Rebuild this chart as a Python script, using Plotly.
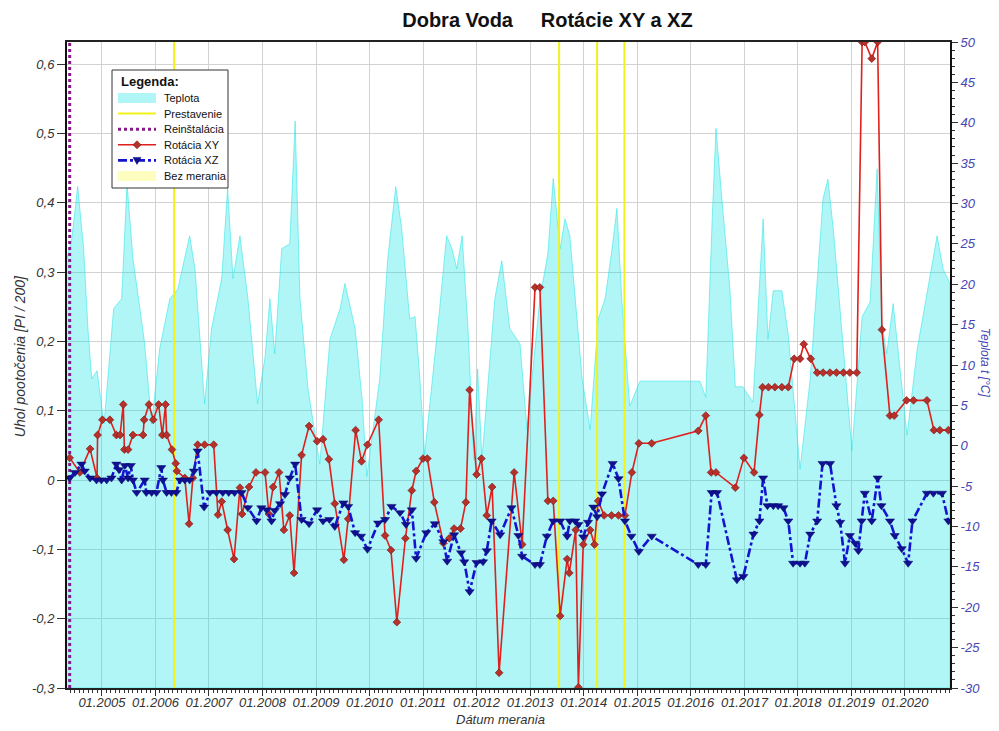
import pandas as pd
import plotly.graph_objects as go

# ---- data -------------------------------------------------------------
# dates are given as fractional years

# Temperature (right axis, °C)
temp_dates = [2004.35, 2004.44, 2004.55, 2004.66, 2004.74, 2004.81, 2004.91, 2005.04, 2005.22, 2005.37,
              2005.47, 2005.58, 2005.71, 2005.80, 2005.93, 2006.08, 2006.27, 2006.42, 2006.64, 2006.74,
              2006.92, 2007.05, 2007.24, 2007.35, 2007.45, 2007.58, 2007.73, 2007.91, 2008.05, 2008.14,
              2008.23, 2008.36, 2008.51, 2008.61, 2008.70, 2008.85, 2009.07, 2009.26, 2009.45, 2009.54,
              2009.73, 2009.86, 2009.95, 2010.19, 2010.34, 2010.49, 2010.60, 2010.75, 2010.85, 2010.94,
              2011.03, 2011.18, 2011.31, 2011.44, 2011.54, 2011.63, 2011.73, 2011.84, 2011.95, 2012.02,
              2012.10, 2012.34, 2012.47, 2012.62, 2012.81, 2012.94, 2013.18, 2013.33, 2013.43, 2013.56,
              2013.65, 2013.74, 2013.84, 2013.97, 2014.12, 2014.27, 2014.40, 2014.53, 2014.62, 2014.71,
              2014.86, 2015.05, 2016.17, 2016.28, 2016.40, 2016.47, 2016.58, 2016.73, 2016.83, 2016.97,
              2017.16, 2017.35, 2017.44, 2017.54, 2017.70, 2017.82, 2018.04, 2018.23, 2018.47, 2018.56,
              2018.66, 2019.01, 2019.20, 2019.35, 2019.48, 2019.57, 2019.66, 2019.78, 2019.87, 2020.04,
              2020.23, 2020.60, 2020.71, 2020.84]
temp_values = [23.2, 25.7, 32.1, 24.4, 14.5, 8.3, 9.3, 2.7, 17.0, 18.2,
               32.5, 23.2, 17.0, 12.6, 2.7, 12.0, 18.2, 19.4, 26.0, 21.9,
               5.2, 14.5, 20.7, 31.9, 20.7, 26.0, 18.2, 5.2, 11.0, 18.2,
               11.4, 24.4, 25.0, 40.2, 18.2, 7.0, -2.3, 13.2, 17.0, 20.1,
               14.5, 5.8, -3.8, 8.3, 23.2, 32.1, 26.9, 15.7, 16.0, 8.3,
               -1.1, 8.3, 17.0, 26.0, 24.4, 21.9, 26.0, 14.5, -1.7, 9.5,
               -1.7, 18.2, 22.9, 14.5, 12.6, 2.0, 18.2, 23.8, 33.1, 24.4,
               28.1, 26.0, 18.2, 8.3, 2.0, 15.7, 18.2, 24.4, 29.4, 18.2,
               4.9, 8.0, 8.0, 6.0, 28.1, 39.3, 30.6, 19.4, 7.3, 7.3,
               5.4, 28.1, 13.2, 19.2, 19.2, 13.7, -2.9, 8.3, 30.6, 33.0,
               26.9, -0.6, 16.0, 17.8, 34.3, 15.1, 11.4, 17.6, 11.9, 1.3,
               12.0, 26.0, 21.9, 20.1]

# Rotation XY (left axis, PI/200)
xy_dates = [2004.40, 2004.59, 2004.78, 2004.91, 2004.92, 2005.01, 2005.15, 2005.27, 2005.34, 2005.40,
            2005.42, 2005.49, 2005.58, 2005.77, 2005.79, 2005.88, 2005.96, 2006.06, 2006.13, 2006.19,
            2006.21, 2006.31, 2006.38, 2006.40, 2006.55, 2006.63, 2006.70, 2006.79, 2006.92, 2007.09,
            2007.17, 2007.24, 2007.35, 2007.47, 2007.58, 2007.62, 2007.75, 2007.88, 2008.05, 2008.12,
            2008.20, 2008.31, 2008.40, 2008.51, 2008.59, 2008.73, 2008.87, 2009.02, 2009.13, 2009.24,
            2009.35, 2009.52, 2009.60, 2009.74, 2009.85, 2009.96, 2010.17, 2010.29, 2010.40, 2010.51,
            2010.67, 2010.79, 2010.87, 2011.00, 2011.08, 2011.21, 2011.38, 2011.49, 2011.58, 2011.70,
            2011.80, 2011.87, 2012.00, 2012.09, 2012.19, 2012.29, 2012.42, 2012.70, 2012.85, 2013.09,
            2013.18, 2013.33, 2013.43, 2013.56, 2013.69, 2013.73, 2013.85, 2013.90, 2013.99, 2014.12,
            2014.20, 2014.27, 2014.38, 2014.52, 2014.65, 2014.77, 2014.90, 2015.03, 2015.27, 2016.14,
            2016.28, 2016.38, 2016.47, 2016.83, 2016.99, 2017.18, 2017.28, 2017.34, 2017.45, 2017.57,
            2017.70, 2017.82, 2017.93, 2018.04, 2018.11, 2018.24, 2018.36, 2018.47, 2018.60, 2018.72,
            2018.85, 2018.97, 2019.10, 2019.20, 2019.25, 2019.38, 2019.49, 2019.57, 2019.72, 2019.80,
            2020.03, 2020.16, 2020.41, 2020.54, 2020.65, 2020.81]
xy_values = [0.032, 0.011, 0.045, 0.003, 0.065, 0.087, 0.087, 0.065, 0.065, 0.109,
             0.044, 0.044, 0.065, 0.065, 0.087, 0.109, 0.087, 0.109, 0.065, 0.109,
             0.065, 0.044, 0.024, 0.013, 0.003, -0.063, 0.003, 0.051, 0.051, 0.051,
             -0.050, -0.031, -0.072, -0.114, -0.011, -0.049, -0.010, 0.011, 0.011, -0.049,
             -0.010, 0.011, -0.072, -0.051, -0.134, 0.036, 0.078, 0.056, 0.059, 0.030,
             -0.034, -0.115, -0.056, 0.072, 0.027, 0.051, 0.087, -0.080, -0.101, -0.205,
             -0.084, -0.015, 0.013, 0.031, 0.031, -0.032, -0.091, -0.084, -0.070, -0.070,
             -0.032, 0.130, 0.008, 0.031, -0.051, -0.010, -0.278, 0.011, -0.093, 0.278,
             0.278, -0.030, -0.030, -0.196, -0.114, -0.134, -0.072, -0.299, -0.093, -0.072,
             -0.093, -0.030, -0.051, -0.051, -0.051, -0.051, 0.011, 0.053, 0.053, 0.071,
             0.093, 0.011, 0.011, -0.011, 0.032, 0.011, 0.094, 0.134, 0.134, 0.134,
             0.134, 0.134, 0.175, 0.175, 0.196, 0.175, 0.155, 0.155, 0.155, 0.155,
             0.155, 0.155, 0.155, 0.632, 0.632, 0.608, 0.632, 0.217, 0.093, 0.093,
             0.115, 0.115, 0.115, 0.072, 0.072, 0.072]

# Rotation XZ (left axis, PI/200)
xz_dates = [2004.40, 2004.50, 2004.62, 2004.68, 2004.78, 2004.90, 2004.99, 2005.09, 2005.18, 2005.27,
            2005.32, 2005.37, 2005.43, 2005.49, 2005.54, 2005.58, 2005.65, 2005.80, 2005.83, 2005.93,
            2006.02, 2006.11, 2006.14, 2006.21, 2006.30, 2006.39, 2006.46, 2006.55, 2006.64, 2006.72,
            2006.79, 2006.91, 2007.02, 2007.14, 2007.26, 2007.37, 2007.48, 2007.61, 2007.73, 2007.89,
            2007.98, 2008.08, 2008.17, 2008.23, 2008.33, 2008.42, 2008.51, 2008.61, 2008.73, 2008.87,
            2009.02, 2009.13, 2009.25, 2009.35, 2009.51, 2009.60, 2009.73, 2009.84, 2009.96, 2010.16,
            2010.29, 2010.41, 2010.57, 2010.68, 2010.79, 2010.87, 2011.06, 2011.22, 2011.38, 2011.45,
            2011.58, 2011.71, 2011.77, 2011.87, 2012.00, 2012.12, 2012.19, 2012.28, 2012.44, 2012.65,
            2012.78, 2012.85, 2013.09, 2013.18, 2013.31, 2013.43, 2013.56, 2013.69, 2013.74, 2013.84,
            2013.90, 2013.99, 2014.08, 2014.18, 2014.25, 2014.34, 2014.54, 2014.65, 2014.77, 2014.89,
            2015.03, 2015.27, 2016.14, 2016.28, 2016.39, 2016.49, 2016.86, 2016.98, 2017.17, 2017.28,
            2017.35, 2017.43, 2017.54, 2017.63, 2017.73, 2017.82, 2017.91, 2018.04, 2018.13, 2018.23,
            2018.36, 2018.46, 2018.60, 2018.72, 2018.79, 2018.88, 2018.97, 2019.07, 2019.13, 2019.19,
            2019.25, 2019.38, 2019.49, 2019.56, 2019.72, 2019.81, 2019.94, 2020.06, 2020.14, 2020.41,
            2020.53, 2020.69, 2020.81]
xz_values = [0.003, 0.011, 0.023, 0.013, 0.003, 0.000, 0.000, 0.000, 0.003, 0.023,
             0.015, 0.000, 0.021, 0.003, 0.021, 0.000, -0.018, 0.000, -0.018, -0.018,
             -0.018, 0.018, 0.000, -0.018, -0.018, -0.018, 0.000, 0.000, 0.000, 0.013,
             0.042, -0.039, -0.018, -0.018, -0.018, -0.018, -0.018, -0.018, -0.040, -0.059,
             -0.040, -0.043, -0.059, -0.044, -0.034, -0.021, 0.003, 0.023, -0.057, -0.063,
             -0.043, -0.059, -0.057, -0.067, -0.033, -0.038, -0.076, -0.081, -0.100, -0.062,
             -0.057, -0.038, -0.047, -0.064, -0.043, -0.113, -0.076, -0.063, -0.089, -0.117,
             -0.079, -0.105, -0.118, -0.161, -0.119, -0.118, -0.102, -0.059, -0.079, -0.040,
             -0.080, -0.110, -0.122, -0.122, -0.081, -0.059, -0.059, -0.081, -0.059, -0.059,
             -0.064, -0.082, -0.061, -0.039, -0.053, -0.020, 0.024, 0.002, -0.059, -0.081,
             -0.103, -0.081, -0.122, -0.122, -0.018, -0.018, -0.144, -0.139, -0.078, -0.059,
             0.003, -0.037, -0.037, -0.037, -0.040, -0.059, -0.120, -0.120, -0.120, -0.078,
             -0.059, 0.024, 0.024, -0.037, -0.061, -0.120, -0.080, -0.091, -0.102, -0.059,
             -0.019, -0.059, 0.003, -0.037, -0.059, -0.080, -0.099, -0.120, -0.059, -0.019,
             -0.019, -0.019, -0.059]

# events
reinstall_dates = [2004.40]
rebuild_dates = [2006.35, 2013.54, 2014.25, 2014.76]

# axes
x_start, x_end = 2004.35, 2020.84
rot_range = [-0.3, 0.632]
temp_range = [-30, 50]
rot_tickvals = [-0.3, -0.2, -0.1, 0, 0.1, 0.2, 0.3, 0.4, 0.5, 0.6]
rot_ticktext = ["-0,3", "-0,2", "-0,1", "0", "0,1", "0,2", "0,3", "0,4", "0,5", "0,6"]
temp_tickvals = [-30, -25, -20, -15, -10, -5, 0, 5, 10, 15, 20, 25, 30, 35, 40, 45, 50]
temp_ticktext = ["-30", "-25", "-20", "-15", "-10", "-5", "0", "5", "10", "15", "20",
                 "25", "30", "35", "40", "45", "50"]

legend_labels = ["Teplota", "Prestavenie", "Reinštalácia", "Rotácia XY", "Rotácia XZ", "Bez merania"]


def to_date(y):
    year = int(y)
    start = pd.Timestamp(year=year, month=1, day=1)
    end = pd.Timestamp(year=year + 1, month=1, day=1)
    return start + (end - start) * (y - year)


def dates(lst):
    return [to_date(v) for v in lst]


FONT = "Liberation Sans, Arial, sans-serif"
CYAN_FILL = "rgba(0,226,228,0.31)"
CYAN_EDGE = "rgba(40,228,230,0.55)"
YELLOW = "#f2f21a"
PURPLE = "#8a1a8a"
RED = "#e0201c"
RED_MK = "#b8302a"
BLUE = "#1414d0"
BLUE_MK = "#101090"
PALE = "#fdfdc0"

fig = go.Figure()

# temperature area (base subplot, right axis): closed polygon down to the axis bottom
t_dates = dates(temp_dates)
area_x = t_dates + t_dates[::-1]
area_y = temp_values + [temp_range[0]] * len(t_dates)
fig.add_trace(go.Scatter(
    x=area_x, y=area_y, yaxis="y", name="Teplota",
    mode="lines", fill="toself", fillcolor=CYAN_FILL,
    line=dict(color=CYAN_EDGE, width=1), hoverinfo="skip"))

# rebuild markers (vertical lines)
rx, ry = [], []
for d in dates(rebuild_dates):
    rx += [d, d, None]
    ry += [rot_range[0], rot_range[1], None]
fig.add_trace(go.Scatter(x=rx, y=ry, yaxis="y2", mode="lines", name="Prestavenie",
                         line=dict(color=YELLOW, width=2)))

# reinstallation
ix, iy = [], []
for d in dates(reinstall_dates):
    ix += [d, d, None]
    iy += [rot_range[0], rot_range[1], None]
fig.add_trace(go.Scatter(x=ix, y=iy, yaxis="y2", mode="lines", name="Reinštalácia",
                         line=dict(color=PURPLE, width=3, dash="dot")))

fig.add_trace(go.Scatter(
    x=dates(xy_dates), y=xy_values, yaxis="y2", name="Rotácia XY", mode="lines+markers",
    line=dict(color=RED, width=1.6),
    marker=dict(symbol="diamond", size=6, color=RED_MK,
                line=dict(color="#7a1010", width=0.6))))

fig.add_trace(go.Scatter(
    x=dates(xz_dates), y=xz_values, yaxis="y2", name="Rotácia XZ", mode="lines+markers",
    line=dict(color=BLUE, width=2.6, dash="dashdot"),
    marker=dict(symbol="triangle-down", size=8, color=BLUE_MK,
                line=dict(color="#08086a", width=0.5))))

# ---- legend box, laid out in pixels inside the plot area -----------------
PW, PH = 883.0, 646.0          # plot area size in px


def px_x(p):
    return p / PW


def px_y(p):
    return 1 - p / PH


box_l, box_t, box_w, box_h = 45, 28, 116, 118
row0, row_step = 56, 15.6
sw_l, sw_r = 51, 89
sw_c = (sw_l + sw_r) / 2

shapes = [dict(type="rect", xref="paper", yref="paper",
               x0=px_x(box_l), x1=px_x(box_l + box_w),
               y0=px_y(box_t + box_h), y1=px_y(box_t),
               fillcolor="white", line=dict(color="#333333", width=1), layer="above")]
annotations = [dict(text="<b>Legenda:</b>", xref="paper", yref="paper",
                    x=px_x(box_l + 7), y=px_y(box_t + 11), xanchor="left", yanchor="middle",
                    showarrow=False, font=dict(family=FONT, size=13, color="#111111"))]

swatches = [("rect", CYAN_FILL, None, 0), ("line", YELLOW, "solid", 2),
            ("line", PURPLE, "dot", 3), ("line", RED, "solid", 1.6),
            ("line", BLUE, "dashdot", 2.6), ("rect", PALE, None, 0)]
for i, (label, (kind, col, dash, w)) in enumerate(zip(legend_labels, swatches)):
    yc = row0 + i * row_step
    if kind == "rect":
        shapes.append(dict(type="rect", xref="paper", yref="paper",
                           x0=px_x(sw_l), x1=px_x(sw_r), y0=px_y(yc + 5), y1=px_y(yc - 5),
                           fillcolor=col, line=dict(width=0), layer="above"))
    else:
        shapes.append(dict(type="line", xref="paper", yref="paper",
                           x0=px_x(sw_l), x1=px_x(sw_r), y0=px_y(yc), y1=px_y(yc),
                           line=dict(color=col, width=w, dash=dash), layer="above"))
    annotations.append(dict(text=label, xref="paper", yref="paper",
                            x=px_x(sw_r + 6), y=px_y(yc), xanchor="left", yanchor="middle",
                            showarrow=False, font=dict(family=FONT, size=11, color="#111111")))
    if label == "Rotácia XY":
        shapes.append(dict(type="path", xref="paper", yref="paper",
                           xsizemode="pixel", ysizemode="pixel",
                           xanchor=px_x(sw_c), yanchor=px_y(yc),
                           path="M -4 0 L 0 4 L 4 0 L 0 -4 Z",
                           fillcolor=RED_MK, line=dict(color="#7a1010", width=0.6), layer="above"))
    if label == "Rotácia XZ":
        shapes.append(dict(type="path", xref="paper", yref="paper",
                           xsizemode="pixel", ysizemode="pixel",
                           xanchor=px_x(sw_c), yanchor=px_y(yc),
                           path="M -4 3 L 4 3 L 0 -4 Z",
                           fillcolor=BLUE_MK, line=dict(color="#08086a", width=0.5), layer="above"))

axis_font = dict(family=FONT, size=13, color="#333333", style="italic")

annotations += [
    dict(text="Uhol pootočenia [PI / 200]", xref="paper", yref="paper",
         x=-0.053, y=0.514, xanchor="center", yanchor="middle", textangle=-90,
         showarrow=False, font=dict(family=FONT, size=14, color="#333333", style="italic")),
    dict(text="Teplota t [°C]", xref="paper", yref="paper",
         x=1.04, y=0.503, xanchor="center", yanchor="middle", textangle=90,
         showarrow=False, font=dict(family=FONT, size=12, color="#4646b4", style="italic")),
    dict(text="Dátum merania", xref="paper", yref="paper",
         x=0.491, y=-0.0495, xanchor="center", yanchor="middle",
         showarrow=False, font=dict(family=FONT, size=13, color="#333333", style="italic")),
]

fig.update_layout(
    width=999, height=731,
    margin=dict(l=67, r=49, t=42, b=43),
    paper_bgcolor="white", plot_bgcolor="white",
    font=dict(family=FONT),
    title=dict(text="<b>Dobra Voda     Rotácie XY a XZ</b>", x=0.548, xref="container",
               xanchor="center", y=0.973, yanchor="middle",
               font=dict(family=FONT, size=20, color="#111111")),
    showlegend=False,
    xaxis=dict(
        type="date", range=[to_date(x_start), to_date(x_end)],
        tick0="2005-01-01", dtick="M12", tickformat="%m.%Y",
        ticks="outside", ticklen=6, tickcolor="#333333", ticklabelstandoff=-4,
        minor=dict(dtick="M1", ticks="outside", ticklen=3, tickcolor="#333333", showgrid=False),
        showgrid=True, gridcolor="#d2d2d2", gridwidth=1,
        showline=True, linecolor="#222222", linewidth=1.5, mirror=True,
        tickfont=axis_font, zeroline=False),
    # temperature axis (right)
    yaxis=dict(
        side="right", range=temp_range,
        tickvals=temp_tickvals, ticktext=temp_ticktext,
        ticks="outside", ticklen=6, tickcolor="#333333",
        minor=dict(dtick=1, ticks="outside", ticklen=3, tickcolor="#333333", showgrid=False),
        showgrid=False, zeroline=False,
        showline=True, linecolor="#111111", linewidth=2,
        tickfont=dict(family=FONT, size=13, color="#4646b4", style="italic")),
    # rotation axis (left)
    yaxis2=dict(
        overlaying="y", side="left", range=rot_range,
        tickvals=rot_tickvals, ticktext=rot_ticktext,
        ticks="outside", ticklen=8, tickcolor="#333333",
        showgrid=True, gridcolor="#d2d2d2", gridwidth=1, zeroline=False,
        showline=True, linecolor="#111111", linewidth=2,
        tickfont=axis_font),
    shapes=shapes,
    annotations=annotations,
)

fig.write_html("out.html")
